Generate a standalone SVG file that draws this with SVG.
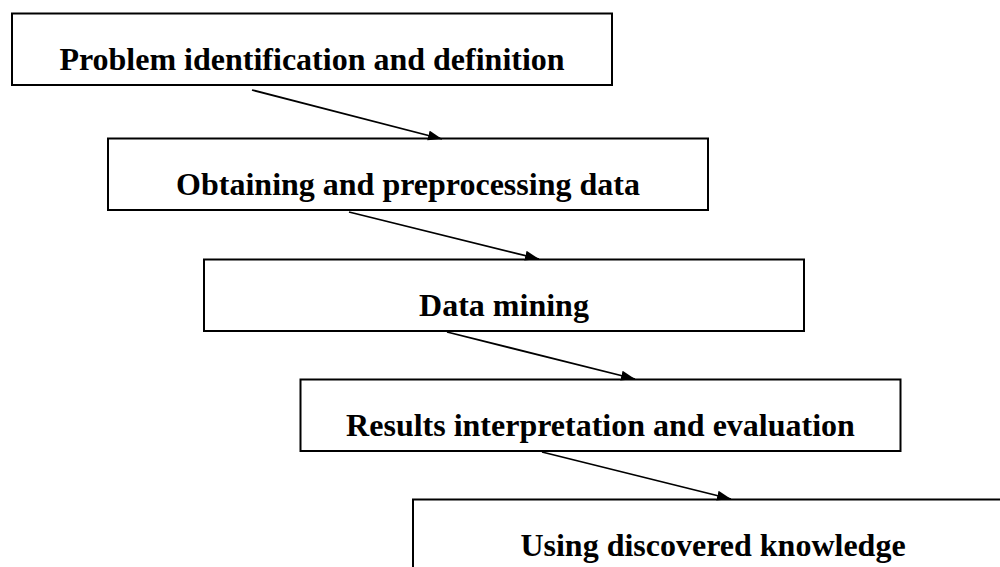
<svg xmlns="http://www.w3.org/2000/svg" width="1000" height="567" viewBox="0 0 1000 567">
<style>
.box{fill:#fff;stroke:#000;stroke-width:2}
.lbl{font-family:"Liberation Serif","Times New Roman",serif;font-weight:bold;font-size:32px;fill:#000;text-anchor:middle}
.conn{stroke:#000;stroke-width:1.8;fill:none;marker-end:url(#ah)}
</style>
<defs>
<marker id="ah" markerUnits="userSpaceOnUse" markerWidth="16" markerHeight="12" refX="14" refY="5" orient="auto">
<path d="M0,0 L14,5 L0,10 Z" fill="#000"/>
</marker>
</defs>
<rect width="1000" height="567" fill="#fff"/>
<g id="node1"><rect class="box" x="12" y="13.5" width="600" height="71.5"/><text class="lbl" x="312" y="70">Problem identification and definition</text></g>
<g id="node2"><rect class="box" x="108" y="138.5" width="600" height="71.5"/><text class="lbl" x="408" y="195">Obtaining and preprocessing data</text></g>
<g id="node3"><rect class="box" x="204" y="259.5" width="600" height="71.5"/><text class="lbl" x="504" y="316">Data mining</text></g>
<g id="node4"><rect class="box" x="300.5" y="379.5" width="600" height="71.5"/><text class="lbl" x="600.5" y="436">Results interpretation and evaluation</text></g>
<g id="node5"><rect class="box" x="413" y="499.5" width="600" height="71.5"/><text class="lbl" x="713" y="556">Using discovered knowledge</text></g>
<g id="connectors">
<line class="conn" x1="252" y1="90" x2="442" y2="139"/>
<line class="conn" x1="349" y1="212" x2="539" y2="259"/>
<line class="conn" x1="447" y1="332" x2="635" y2="379"/>
<line class="conn" x1="542" y1="452" x2="731" y2="499"/>
</g>
</svg>
